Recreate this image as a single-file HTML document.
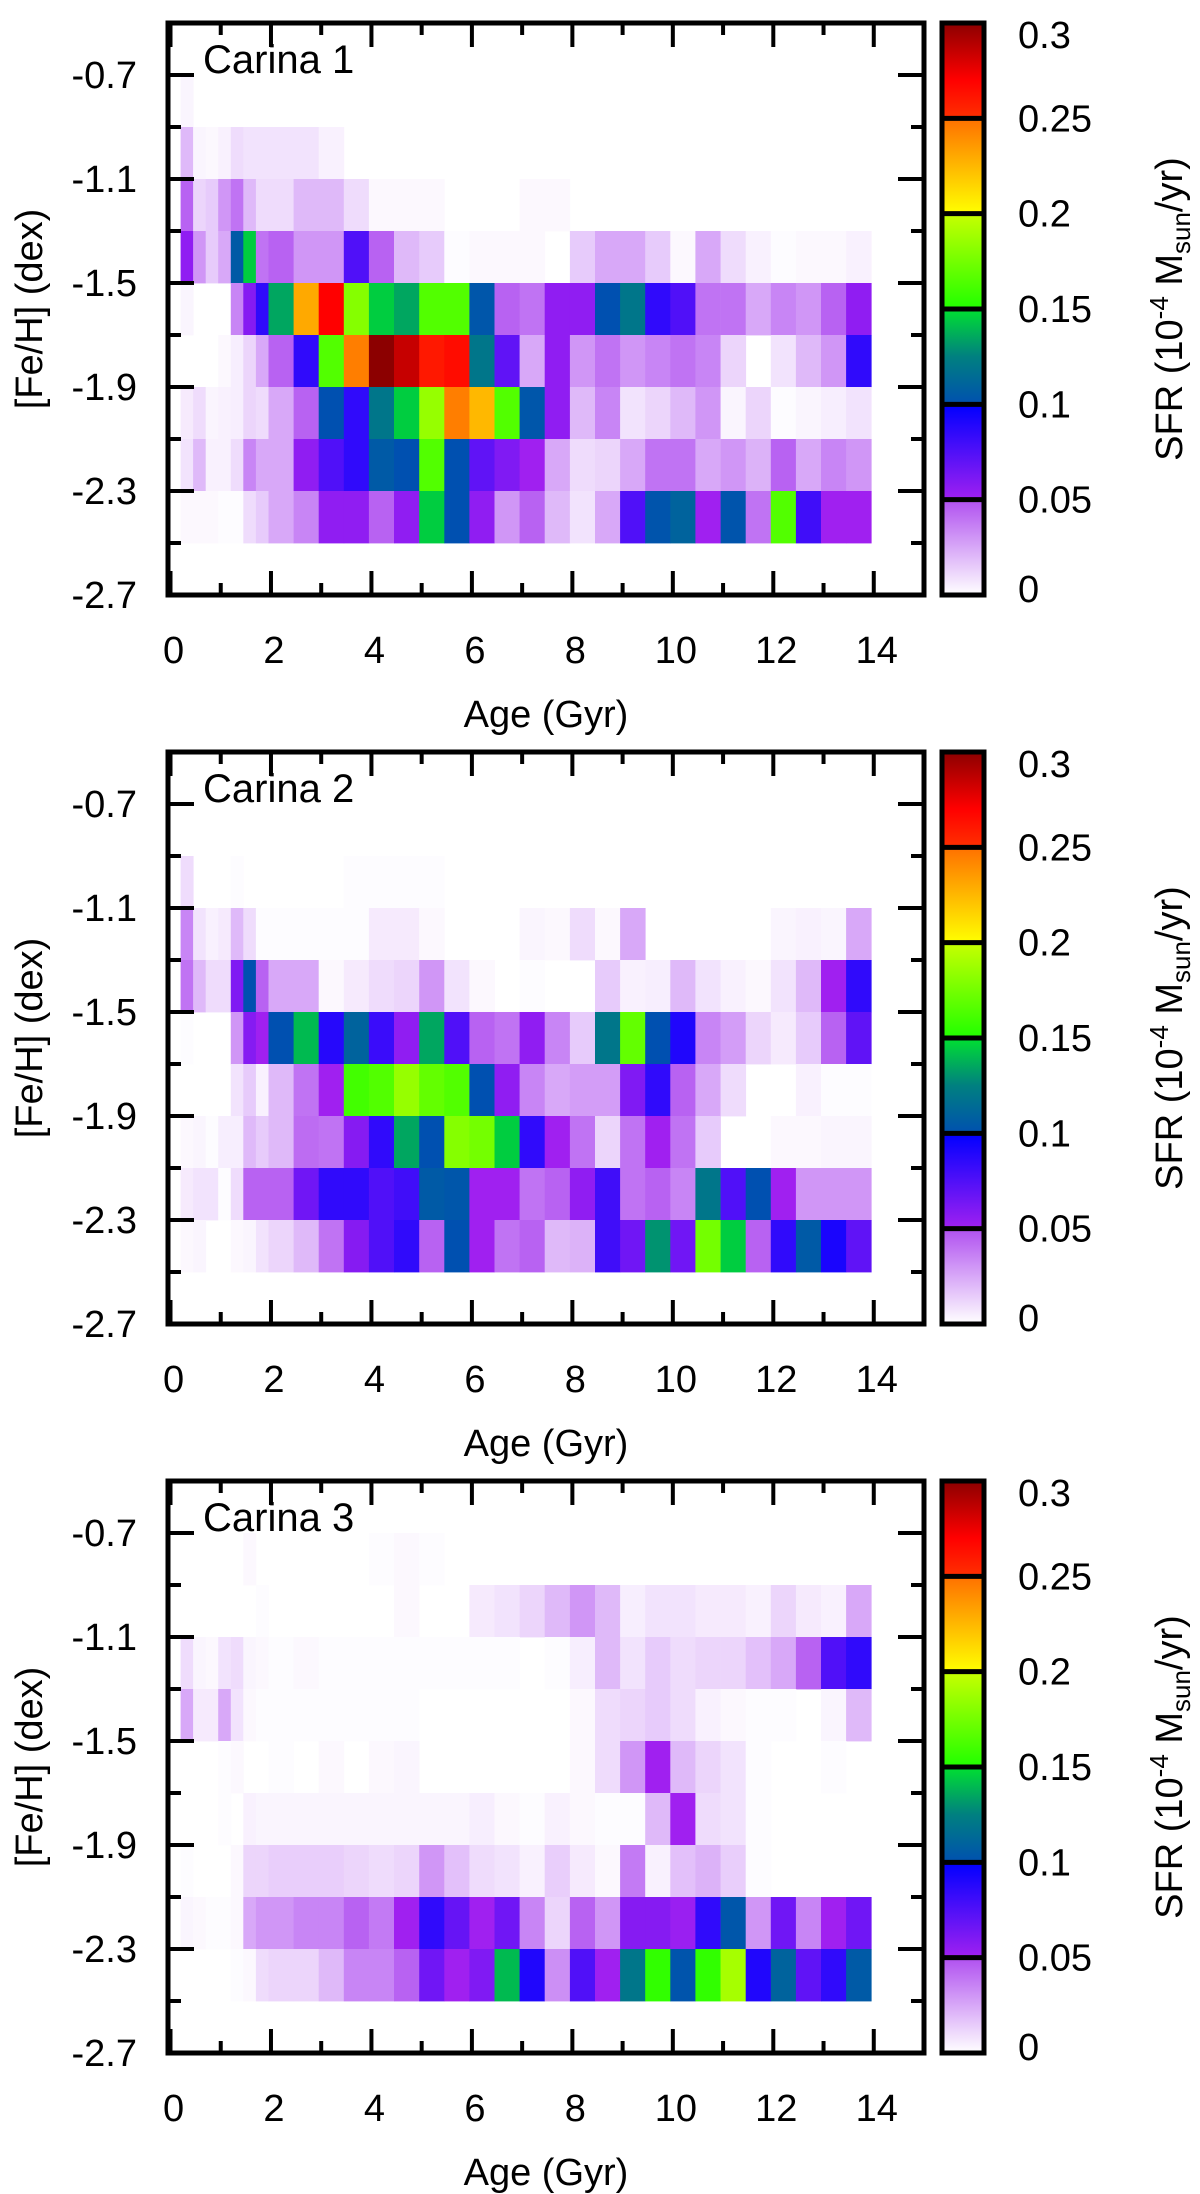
<!DOCTYPE html>
<html>
<head>
<meta charset="utf-8">
<style>
html,body{margin:0;padding:0;background:#fff;}
svg{display:block;}
text{font-family:"Liberation Sans",Arial,sans-serif;fill:#000;}
</style>
</head>
<body>
<svg id="fig" xmlns="http://www.w3.org/2000/svg" width="1200" height="2194" viewBox="0 0 1200 2194"></svg>
<script>
// ---- data ----
const ageEdges = [0.2,0.45,0.7,0.95,1.2,1.45,1.7,1.95,2.45,2.95,3.45,3.95,4.45,4.95,5.45,5.95,6.45,6.95,7.45,7.95,8.45,8.95,9.45,9.95,10.45,10.95,11.45,11.95,12.45,12.95,13.45,13.95];
const fehEdges = [-0.7,-0.9,-1.1,-1.3,-1.5,-1.7,-1.9,-2.1,-2.3,-2.5];
const xTickValues = [0,2,4,6,8,10,12,14];
const yTickValues = [-0.7,-1.1,-1.5,-1.9,-2.3,-2.7];
const cbTickValues = [0,0.05,0.1,0.15,0.2,0.25,0.3];
const cbTickLabels = ["0","0.05","0.1","0.15","0.2","0.25","0.3"];
const panelTitles = ["Carina 1","Carina 2","Carina 3"];

const carina1 = [
 [0.003,0,0,0,0,0,0,0,0,0,0,0,0,0,0,0,0, 0,0,0,0,0,0,0,0,0,0,0,0,0,0],
 [0.02,0.003,0.002,0.004,0.01,0.008,0.008,0.008,0.008,0.004,0,0,0,0,0,0,0, 0,0,0,0,0,0,0,0,0,0,0,0,0,0],
 [0.045,0.012,0.015,0.03,0.04,0.02,0.01,0.01,0.02,0.02,0.01,0.002,0.002,0.002,0,0,0, 0.002,0.002,0,0,0,0,0,0,0,0,0,0,0,0],
 [0.055,0.03,0.015,0.025,0.105,0.145,0.04,0.045,0.03,0.03,0.075,0.045,0.02,0.015,0.001,0.002,0.002, 0.002,0,0.015,0.025,0.025,0.015,0.002,0.025,0.01,0.004,0.001,0.002,0.002,0.004],
 [0.003,0,0,0,0.035,0.058,0.085,0.135,0.23,0.27,0.18,0.145,0.135,0.165,0.165,0.103,0.045, 0.04,0.055,0.055,0.1,0.12,0.085,0.075,0.04,0.04,0.025,0.035,0.03,0.045,0.055],
 [0,0,0,0.002,0.005,0.012,0.025,0.045,0.085,0.165,0.245,0.3,0.285,0.26,0.265,0.12,0.07, 0.025,0.055,0.03,0.04,0.03,0.035,0.04,0.035,0.012,0,0.008,0.02,0.03,0.085],
 [0.006,0.01,0.003,0.004,0.005,0.012,0.01,0.025,0.045,0.1,0.085,0.12,0.145,0.185,0.245,0.225,0.165, 0.103,0.055,0.02,0.035,0.008,0.012,0.02,0.03,0.003,0.012,0.001,0.003,0.005,0.008],
 [0.008,0.02,0.004,0.004,0.01,0.035,0.025,0.025,0.055,0.075,0.085,0.105,0.1,0.165,0.1,0.07,0.06, 0.05,0.025,0.01,0.012,0.025,0.04,0.04,0.025,0.03,0.022,0.045,0.025,0.035,0.03],
 [0.002,0.002,0.002,0.001,0.001,0.01,0.015,0.025,0.035,0.055,0.055,0.045,0.055,0.145,0.1,0.055,0.03, 0.045,0.02,0.008,0.025,0.075,0.102,0.11,0.05,0.102,0.04,0.165,0.08,0.05,0.05]
];
const carina2 = [
 [0,0,0,0,0,0,0,0,0,0,0,0,0,0,0,0,0, 0,0,0,0,0,0,0,0,0,0,0,0,0,0],
 [0.01,0,0,0,0.001,0,0,0,0,0,0.001,0.001,0.001,0.001,0,0,0, 0,0,0,0,0,0,0,0,0,0,0,0,0,0],
 [0.035,0.008,0.004,0.006,0.02,0.01,0.001,0.001,0.001,0.001,0.001,0.006,0.006,0.002,0,0,0, 0.003,0.002,0.01,0.002,0.025,0,0,0,0,0,0.003,0.004,0.003,0.025],
 [0.04,0.02,0.01,0.01,0.06,0.1,0.045,0.025,0.025,0.002,0.006,0.01,0.012,0.03,0.008,0.002,0, 0.001,0,0,0.015,0.004,0.005,0.02,0.008,0.004,0.002,0.008,0.02,0.05,0.085],
 [0.001,0,0,0,0.03,0.058,0.05,0.1,0.14,0.088,0.11,0.082,0.055,0.135,0.075,0.045,0.04, 0.055,0.035,0.015,0.12,0.17,0.1,0.09,0.035,0.028,0.012,0.006,0.015,0.045,0.07],
 [0,0,0,0,0.008,0.015,0.004,0.02,0.04,0.05,0.16,0.165,0.185,0.17,0.165,0.1,0.055, 0.035,0.025,0.028,0.028,0.06,0.085,0.045,0.025,0.01,0,0,0.004,0.001,0.001],
 [0.002,0.003,0.001,0.005,0.005,0.02,0.015,0.02,0.042,0.04,0.058,0.085,0.135,0.1,0.18,0.175,0.145, 0.085,0.05,0.04,0.012,0.04,0.05,0.04,0.015,0,0,0.002,0.002,0.003,0.003],
 [0.006,0.008,0.008,0.001,0.01,0.045,0.045,0.045,0.065,0.085,0.085,0.075,0.08,0.105,0.103,0.05,0.05, 0.04,0.045,0.055,0.08,0.04,0.045,0.035,0.12,0.075,0.1,0.05,0.03,0.03,0.03],
 [0.002,0.003,0,0,0.002,0.003,0.008,0.012,0.02,0.04,0.058,0.075,0.085,0.045,0.1,0.05,0.04, 0.045,0.02,0.022,0.08,0.065,0.13,0.065,0.175,0.145,0.045,0.085,0.105,0.092,0.07]
];
const carina3 = [
 [0,0,0,0,0,0.002,0,0,0,0,0,0.001,0.002,0.001,0,0,0, 0,0,0,0,0,0,0,0,0,0,0,0,0,0],
 [0,0,0,0,0,0,0.001,0,0,0,0,0,0.002,0,0,0.006,0.008, 0.012,0.02,0.03,0.02,0.005,0.008,0.008,0.006,0.006,0.004,0.012,0.006,0.004,0.025],
 [0.01,0.003,0.002,0.008,0.01,0.003,0.002,0.001,0.002,0.001,0.001,0.001,0.001,0.001,0.001,0.001,0.001, 0,0.001,0.005,0.02,0.008,0.015,0.01,0.012,0.012,0.018,0.025,0.045,0.075,0.085],
 [0.025,0.006,0.006,0.025,0.008,0.002,0.001,0.001,0.001,0.001,0.001,0.001,0.001,0,0,0,0, 0,0,0.002,0.01,0.012,0.015,0.01,0.004,0.002,0.001,0.001,0,0.003,0.02],
 [0,0,0,0.001,0.002,0,0,0.001,0,0.002,0,0.002,0.003,0,0,0,0, 0,0,0.002,0.01,0.03,0.05,0.02,0.012,0.008,0.001,0,0,0.001,0],
 [0,0,0,0.001,0,0.004,0.003,0.003,0.003,0.003,0.003,0.003,0.003,0.003,0.003,0.005,0.002, 0.001,0.004,0.002,0.001,0.001,0.02,0.05,0.01,0.008,0.001,0,0,0,0],
 [0.001,0,0,0,0.002,0.012,0.012,0.014,0.014,0.014,0.012,0.01,0.012,0.03,0.018,0.01,0.008, 0.004,0.014,0.006,0.002,0.038,0.004,0.018,0.022,0.014,0.001,0,0,0,0],
 [0.003,0.002,0.001,0.001,0.002,0.025,0.03,0.03,0.035,0.035,0.045,0.038,0.05,0.085,0.068,0.05,0.065, 0.035,0.012,0.045,0.03,0.058,0.058,0.052,0.085,0.103,0.03,0.065,0.035,0.05,0.065],
 [0,0,0,0,0.001,0.002,0.01,0.012,0.012,0.02,0.035,0.035,0.045,0.065,0.05,0.06,0.14, 0.09,0.032,0.075,0.05,0.12,0.155,0.102,0.155,0.19,0.09,0.11,0.07,0.085,0.105]
];
const panels = [carina1, carina2, carina3];

// ---- layout ----
const NS = "http://www.w3.org/2000/svg";
const svg = document.getElementById("fig");
const FX0 = 168, FX1 = 924, AGE0 = -0.05, AGE1 = 15.0;
const FEH0 = -0.5, FEH1 = -2.7, PANEL_H = 572, PANEL_STEP = 729, TOP0 = 23;
const CBX0 = 942, CBX1 = 984, VMAX = 0.3;
function xScale(a){ return FX0 + (a - AGE0) / (AGE1 - AGE0) * (FX1 - FX0); }
function yScale(f, top){ return top + (FEH0 - f) / (FEH0 - FEH1) * PANEL_H; }
function cScale(v, top){ return top + PANEL_H - v / VMAX * PANEL_H; }

const stops = [
 [[0,255,255,255],[0.05,176,80,240]],
 [[0.05,160,32,240],[0.1,0,0,255]],
 [[0.1,0,80,176],[0.125,0,128,128],[0.15,0,224,48]],
 [[0.15,32,255,0],[0.2,200,255,0]],
 [[0.2,255,255,0],[0.25,255,112,0]],
 [[0.25,255,48,0],[0.27,255,0,0],[0.3,140,0,0]]
];
function colorOf(v){
  v = Math.max(0, Math.min(VMAX, v));
  let band = Math.min(5, Math.floor(v / 0.05));
  const s = stops[band];
  for (let i = 0; i < s.length - 1; i++) {
    if (v <= s[i+1][0] || i === s.length - 2) {
      const t = Math.max(0, Math.min(1, (v - s[i][0]) / (s[i+1][0] - s[i][0])));
      const c = [1,2,3].map(k => Math.round(s[i][k] + t * (s[i+1][k] - s[i][k])));
      return "rgb(" + c.join(",") + ")";
    }
  }
}
function mk(tag, attrs, parent){
  const e = document.createElementNS(NS, tag);
  for (const k in attrs) e.setAttribute(k, attrs[k]);
  (parent || svg).appendChild(e);
  return e;
}

const defs = mk("defs", {});
const grad = mk("linearGradient", {id:"cbgrad", x1:"0", y1:"1", x2:"0", y2:"0"}, defs);
stops.forEach(seg => seg.forEach(st => {
  mk("stop", {offset: (st[0]/VMAX).toFixed(4), "stop-color": "rgb(" + st[1] + "," + st[2] + "," + st[3] + ")"}, grad);
}));

panels.forEach((data, p) => {
  const top = TOP0 + p * PANEL_STEP, bot = top + PANEL_H;
  const g = mk("g", {});
  
  

  data.forEach((row, r) => {
    row.forEach((v, c) => {
      if (v <= 0.0005) return;
      const x0 = xScale(ageEdges[c]), x1 = xScale(ageEdges[c+1]);
      const y0 = yScale(fehEdges[r], top), y1 = yScale(fehEdges[r+1], top);
      const rect = mk("rect", {x:x0.toFixed(1), y:y0.toFixed(1), width:(x1-x0+0.4).toFixed(1), height:(y1-y0+0.4).toFixed(1), fill:colorOf(v)}, g);
      
      
    });
  });

  for (let a = 0; a <= 14; a++) {
    const x = xScale(a), len = (a % 2 === 0) ? 24 : 12;
    const t1 = mk("line", {x1:x, y1:top, x2:x, y2:top+len, stroke:"#000", "stroke-width":4}, g);
    
    
    const t2 = mk("line", {x1:x, y1:bot, x2:x, y2:bot-len, stroke:"#000", "stroke-width":4}, g);
    
    
  }
  for (let k = 0; k <= 10; k++) {
    const f = -0.7 - 0.2 * k;
    const y = yScale(f, top), len = (k % 2 === 0) ? 26 : 13;
    const t1 = mk("line", {x1:FX0, y1:y, x2:FX0+len, y2:y, stroke:"#000", "stroke-width":4}, g);
    
    
    const t2 = mk("line", {x1:FX1, y1:y, x2:FX1-len, y2:y, stroke:"#000", "stroke-width":4}, g);
    
    
  }
  const fr = mk("rect", {x:FX0, y:top, width:FX1-FX0, height:PANEL_H, fill:"none", stroke:"#000", "stroke-width":5}, g);
  
  

  xTickValues.forEach(a => {
    const t = mk("text", {x:xScale(a)+3, y:bot+68, "font-size":38, "text-anchor":"middle"}, g);
    t.textContent = String(a);
    
    
  });
  yTickValues.forEach(f => {
    const t = mk("text", {x:137, y:yScale(f, top)+13, "font-size":38, "text-anchor":"end"}, g);
    t.textContent = f.toFixed(1);
    
    
  });
  const xt = mk("text", {x:(FX0+FX1)/2, y:bot+132, "font-size":38, "text-anchor":"middle"}, g);
  xt.textContent = "Age (Gyr)";
  
  
  const yc = top + PANEL_H/2;
  const yt = mk("text", {x:0, y:0, "font-size":38, "text-anchor":"middle", transform:"translate(42," + yc + ") rotate(-90)"}, g);
  yt.textContent = "[Fe/H] (dex)";
  
  
  const pt = mk("text", {x:203, y:top+50, "font-size":40}, g);
  pt.textContent = panelTitles[p];
  
  

  const cb = mk("rect", {x:CBX0, y:top, width:CBX1-CBX0, height:PANEL_H, fill:"url(#cbgrad)", stroke:"#000", "stroke-width":5}, g);
  
  
  cbTickValues.forEach((v, i) => {
    const y = cScale(v, top);
    if (i > 0 && i < cbTickValues.length - 1) {
      const l = mk("line", {x1:CBX0, y1:y, x2:CBX1, y2:y, stroke:"#000", "stroke-width":5}, g);
      
      
    }
    const t = mk("text", {x:1018, y:Math.min(Math.max(y, top+12), bot-6)+13, "font-size":38}, g);
    t.textContent = cbTickLabels[i];
    
    
  });
  const cl = mk("text", {x:0, y:0, "font-size":38, "text-anchor":"middle", transform:"translate(1182," + yc + ") rotate(-90)"}, g);
  
  
  const s1 = mk("tspan", {}, cl); s1.textContent = "SFR (10";
  const s2 = mk("tspan", {"font-size":26, dy:"-14"}, cl); s2.textContent = "-4";
  const s3 = mk("tspan", {dy:"14"}, cl); s3.textContent = " M";
  const s4 = mk("tspan", {"font-size":26, dy:"8"}, cl); s4.textContent = "sun";
  const s5 = mk("tspan", {dy:"-8"}, cl); s5.textContent = "/yr)";
});
</script>
</body>
</html>
